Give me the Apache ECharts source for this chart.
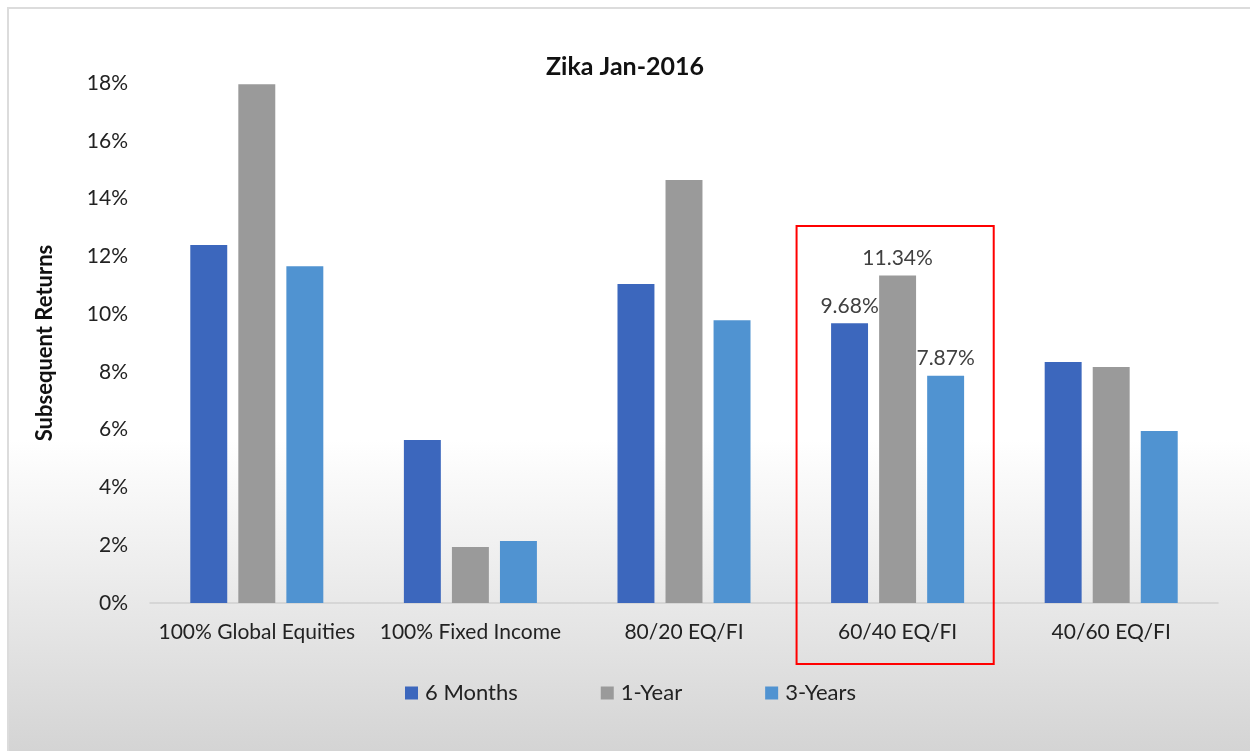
<!DOCTYPE html>
<html>
<head>
<meta charset="utf-8">
<script src="https://cdn.jsdelivr.net/npm/echarts@6/dist/echarts.min.js"></script>
<style>
html,body{margin:0;padding:0;background:#fff;width:1250px;height:751px;overflow:hidden;}
#bg{position:absolute;left:7px;top:7px;width:1260px;height:760px;border:2px solid #dcdcdc;box-sizing:border-box;
background:linear-gradient(to bottom,#ffffff 0%,#ffffff 57%,#d2d2d2 100%);}
#chart{position:absolute;left:0;top:0;width:1250px;height:751px;}
</style>
</head>
<body>
<div id="bg"></div>
<div id="chart"></div>
<script>
const titleText = 'Zika Jan-2016';
const yAxisName = 'Subsequent Returns';
const categories = ['100% Global Equities', '100% Fixed Income', '80/20 EQ/FI', '60/40 EQ/FI', '40/60 EQ/FI'];
const seriesNames = ['6 Months', '1-Year', '3-Years'];
const sixMonths = [12.39, 5.64, 11.04, 9.68, 8.34];
const oneYear = [17.96, 1.94, 14.64, 11.34, 8.17];
const threeYears = [11.66, 2.15, 9.79, 7.87, 5.95];
const labeledIndex = 3;
const highlightTop = 13.05;
const colors = ['#3c67bd', '#9a9a9a', '#5093d1'];
const FONT = 'Lato, "Open Sans", sans-serif';

const chart = echarts.init(document.getElementById('chart'), null, {renderer: 'canvas'});

function mkData(arr) {
  return arr.map((v, i) => i === labeledIndex ? {
    value: v,
    label: {show: true, position: 'top', distance: 7, formatter: p => p.value.toFixed(2) + '%',
      color: '#404040', fontSize: 21, fontFamily: FONT}
  } : v);
}

const allSeries = [sixMonths, oneYear, threeYears].map((arr, k) => ({
  name: seriesNames[k],
  type: 'bar',
  data: mkData(arr),
  barWidth: '17.3%',
  barGap: '30%',
  itemStyle: {color: colors[k]},
  emphasis: {disabled: true}
}));

chart.setOption({
  backgroundColor: 'transparent',
  animation: false,
  color: colors,
  title: {text: titleText, left: 'center', top: 49,
    textStyle: {fontSize: 25, fontWeight: 'bold', color: '#111', fontFamily: FONT}},
  legend: {
    data: seriesNames, left: 400, top: 677, itemWidth: 13, itemHeight: 13, itemGap: 83,
    icon: 'rect',
    textStyle: {fontSize: 22, color: '#222', fontFamily: FONT, padding: [0, 0, 0, 2]}
  },
  grid: {left: 150, right: 32, top: 83, bottom: 148, containLabel: false},
  xAxis: {
    type: 'category', data: categories,
    axisLine: {lineStyle: {color: '#d0d0d0', width: 1.5}},
    axisTick: {show: false},
    axisLabel: {fontSize: 21, color: '#222', fontFamily: FONT, margin: 19, interval: 0}
  },
  yAxis: {
    type: 'value', min: 0, max: 18, interval: 2,
    name: yAxisName, nameLocation: 'middle', nameGap: 94, nameRotate: 90,
    nameTextStyle: {fontSize: 22, fontWeight: 'bold', color: '#111', fontFamily: FONT},
    axisLine: {show: false}, axisTick: {show: false},
    splitLine: {show: false},
    axisLabel: {fontSize: 21, color: '#222', fontFamily: FONT, margin: 22, formatter: v => v + '%'}
  },
  series: allSeries
});

function drawBox() {
  const c = chart.convertToPixel({xAxisIndex: 0}, categories[labeledIndex]);
  const c2 = chart.convertToPixel({xAxisIndex: 0}, categories[labeledIndex + 1]);
  const band = c2 - c;
  const yTop = chart.convertToPixel({yAxisIndex: 0}, highlightTop);
  const y0 = chart.convertToPixel({yAxisIndex: 0}, 0);
  const left = c - band * 0.473;
  const right = c + band * 0.45;
  chart.setOption({
    graphic: [{
      type: 'rect', silent: true, z: 100,
      shape: {x: left, y: yTop, width: right - left, height: (y0 + 61) - yTop},
      style: {fill: 'none', stroke: '#ff0000', lineWidth: 2}
    }]
  });
}
drawBox();
</script>
</body>
</html>
